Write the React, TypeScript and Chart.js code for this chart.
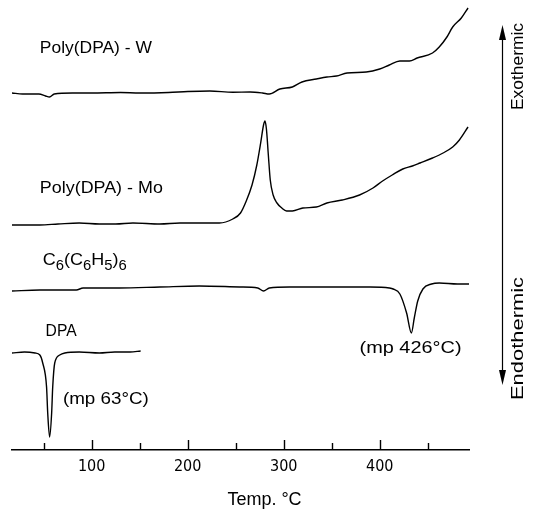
import React, { useEffect, useRef } from "react";
import { Chart, registerables } from "chart.js";

Chart.register(...registerables);

const TICK_FONT = "'Liberation Sans Narrow', 'DejaVu Sans Condensed', 'Liberation Sans', sans-serif";
const TEXT_FONT = "'Liberation Sans', 'DejaVu Sans', sans-serif";

// Temperature axis (°C)
const X_MIN = 17;
const X_MAX = 493;
const majorTicks = [100, 200, 300, 400];
const minorTicks = [50, 150, 250, 350, 450];
const axisTitle = "Temp. °C";

// Baselines of the stacked thermograms (arbitrary heat-flow units)
const offsetW = 357;
const offsetMo = 225;
const offsetC6 = 162;
const offsetDPA = 97;

// Poly(DPA)-W
const tempW = [17, 28, 45, 52, 56, 61, 80, 100, 130, 150, 180, 200, 223, 247, 265, 278, 285, 296, 309, 319, 334, 345, 355, 366, 386, 400, 410, 421, 431, 439, 455, 462, 470, 476, 485, 492];
const signalW = [0, -1, -1, -3, -4, -1, 0, 0, 0.5, 0, 0.5, 1.5, 2, 0.7, 1, 0, -1, 4, 6, 11, 14, 16, 17, 20, 21, 24, 28, 32, 32, 35, 40, 46, 56, 66, 75, 85];

// Poly(DPA)-Mo
const tempMo = [17, 30, 46, 65, 87, 108, 125, 143, 171, 192, 212, 233, 247, 255, 261, 267, 272, 276, 279, 280.5, 282, 284, 286, 289, 293, 298, 303, 309, 320, 334, 345, 361, 379, 393, 403, 413, 424, 434, 442, 455, 466, 476, 483, 492];
const signalMo = [0, 0, 0, 1, 2, 1, 1, 2, 1, 2, 2, 2, 6, 12, 24, 40, 60, 82, 100, 104, 96, 70, 45, 30, 22, 17, 14, 14, 17, 18, 22, 25, 30, 37, 44, 50, 56, 59, 62, 67, 72, 78, 85, 98];

// C6(C6H5)6
const tempC6 = [17, 46, 84, 91, 129, 171, 212, 254, 273, 279, 285, 306, 351, 390, 410, 414, 421, 428, 433, 436, 439.6, 445, 454, 462, 481, 493];
const signalC6 = [-3, -2, -2, 0, 0, 1, 2, 1, 0, -3, 0, 1, 1, 1, 0, -1, -6, -25, -45, -30, -13, -1, 4, 5, 4, 4];

// DPA
const tempDPA = [17, 30, 41, 46, 49, 53, 54.2, 56.2, 58.3, 59.4, 61.5, 66.7, 72, 87, 108, 124, 140, 151];
const signalDPA = [0, 1, 0, -2, -10, -34, -60, -84, -60, -34, -10, -2, 0, 1, 0, 1, 1, 2];

// Text annotations: anchor (temperature, value), target width in px
const curveLabels = [
  { parts: [["Poly(DPA) - W", 0]], t: 46, v: 397, w: 112 },
  { parts: [["Poly(DPA) - Mo", 0]], t: 46, v: 257, w: 123 },
  { parts: [["C", 0], ["6", 1], ["(C", 0], ["6", 1], ["H", 0], ["5", 1], [")", 0], ["6", 1]], t: 49, v: 185, w: 84 },
  { parts: [["DPA", 0]], t: 52, v: 114, w: 31 },
  { parts: [["(mp 63°C)", 0]], t: 70, v: 46, w: 86 },
  { parts: [["(mp 426°C)", 0]], t: 379, v: 97, w: 102 },
];
const exoLabel = "Exothermic";
const endoLabel = "Endothermic";

function toPoints(temps: number[], sig: number[], off: number) {
  return temps.map((t, i) => ({ x: t, y: off + sig[i] }));
}

function drawParts(ctx: CanvasRenderingContext2D, parts: any[], x: number, y: number, w: number, size: number) {
  const subSize = Math.round(size * 0.8);
  let total = 0;
  const widths: number[] = [];
  for (const [s, sub] of parts) {
    ctx.font = `${sub ? subSize : size}px ${TEXT_FONT}`;
    const mw = ctx.measureText(s).width;
    widths.push(mw);
    total += mw;
  }
  ctx.save();
  ctx.translate(x, y);
  ctx.scale(w / total, 1);
  let cx = 0;
  parts.forEach(([s, sub]: any, i: number) => {
    ctx.font = `${sub ? subSize : size}px ${TEXT_FONT}`;
    ctx.fillText(s, cx, sub ? 5 : 0);
    cx += widths[i];
  });
  ctx.restore();
}

function drawRotated(ctx: CanvasRenderingContext2D, text: string, x: number, yStart: number, len: number, size: number) {
  ctx.save();
  ctx.font = `${size}px ${TEXT_FONT}`;
  const mw = ctx.measureText(text).width;
  ctx.translate(x, yStart);
  ctx.rotate(-Math.PI / 2);
  ctx.scale(len / mw, 1);
  ctx.fillText(text, 0, 0);
  ctx.restore();
}

const annotationPlugin = {
  id: "dscAnnotations",
  afterDraw(chart: any) {
    const ctx: CanvasRenderingContext2D = chart.ctx;
    const xs = chart.scales.x;
    const ys = chart.scales.y;
    const yb = chart.chartArea.bottom;
    ctx.save();
    ctx.strokeStyle = "#000";
    ctx.fillStyle = "#000";
    ctx.lineWidth = 1.4;
    // upward tick marks
    ctx.beginPath();
    for (const t of majorTicks) {
      const px = Math.round(xs.getPixelForValue(t)) + 0.5;
      ctx.moveTo(px, yb);
      ctx.lineTo(px, yb - 10);
    }
    for (const t of minorTicks) {
      const px = Math.round(xs.getPixelForValue(t)) + 0.5;
      ctx.moveTo(px, yb);
      ctx.lineTo(px, yb - 7);
    }
    ctx.stroke();

    // curve labels
    ctx.textBaseline = "alphabetic";
    ctx.textAlign = "left";
    for (const lab of curveLabels) {
      drawParts(ctx, lab.parts, xs.getPixelForValue(lab.t), ys.getPixelForValue(lab.v), lab.w, 17);
    }

    // axis title
    ctx.font = `18px ${TEXT_FONT}`;
    ctx.textAlign = "center";
    ctx.textBaseline = "middle";
    ctx.fillText(axisTitle, xs.getPixelForValue(280), 500);

    // exo / endo arrow
    const ax = 502.5;
    const top = 25;
    const bot = 385;
    ctx.lineWidth = 1.2;
    ctx.beginPath();
    ctx.moveTo(ax, top + 6);
    ctx.lineTo(ax, bot - 6);
    ctx.stroke();
    ctx.beginPath();
    ctx.moveTo(ax, top);
    ctx.lineTo(ax - 3.5, top + 15);
    ctx.lineTo(ax + 3.5, top + 15);
    ctx.closePath();
    ctx.fill();
    ctx.beginPath();
    ctx.moveTo(ax, bot);
    ctx.lineTo(ax - 3.5, bot - 15);
    ctx.lineTo(ax + 3.5, bot - 15);
    ctx.closePath();
    ctx.fill();

    ctx.textAlign = "left";
    ctx.textBaseline = "alphabetic";
    drawRotated(ctx, exoLabel, 523, 110, 87, 17);
    drawRotated(ctx, endoLabel, 523, 400, 123, 17);
    ctx.restore();
  },
};

export default function App() {
  const ref = useRef<HTMLCanvasElement | null>(null);
  useEffect(() => {
    if (!ref.current) return;
    const line = (data: any[]) => ({
      data,
      borderColor: "#000",
      borderWidth: 1.4,
      pointRadius: 0,
      fill: false,
      cubicInterpolationMode: "monotone" as const,
      clip: false as any,
    });
    const chart = new Chart(ref.current, {
      type: "line",
      data: {
        datasets: [
          line(toPoints(tempW, signalW, offsetW)),
          line(toPoints(tempMo, signalMo, offsetMo)),
          line(toPoints(tempC6, signalC6, offsetC6)),
          line(toPoints(tempDPA, signalDPA, offsetDPA)),
        ],
      },
      options: {
        animation: false,
        responsive: false,
        events: [],
        layout: { padding: { left: 12, right: 64, top: 0, bottom: 0 } },
        plugins: { legend: { display: false }, tooltip: { enabled: false } },
        scales: {
          x: {
            type: "linear",
            position: "bottom",
            min: X_MIN,
            max: X_MAX,
            grid: { display: false, drawTicks: false },
            border: { display: true, color: "#000", width: 1.4 },
            afterBuildTicks: (s: any) => {
              s.ticks = [...minorTicks, ...majorTicks].sort((a, b) => a - b).map((v) => ({ value: v }));
            },
            ticks: {
              autoSkip: false,
              maxRotation: 0,
              color: "#000",
              padding: 7,
              font: { family: TICK_FONT, size: 16 },
              callback: (v: any) => (majorTicks.includes(Number(v)) ? String(v) : ""),
            },
            afterFit: (s: any) => {
              s.height = 61;
            },
          },
          y: { display: false, min: 0, max: 450 },
        },
      },
      plugins: [annotationPlugin],
    });
    return () => chart.destroy();
  }, []);
  return (
    <div style={{ position: "fixed", left: 0, top: 0, width: 533, height: 511, background: "#fff" }}>
      <canvas ref={ref} width={533} height={511} style={{ display: "block" }} />
    </div>
  );
}
